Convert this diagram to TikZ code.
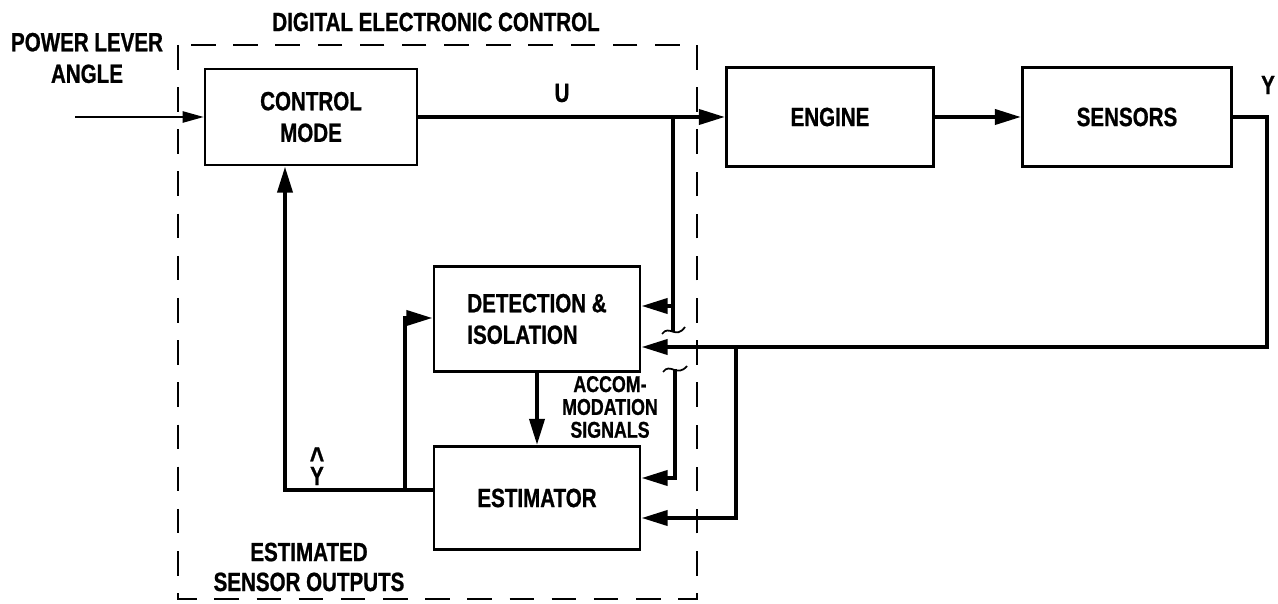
\documentclass[tikz,border=0pt]{standalone}
\usepackage{fontspec}
\setmainfont{Liberation Sans}[FakeStretch=0.78, BoldFeatures={FakeBold=0.8}]
\usetikzlibrary{arrows.meta}

\tikzset{
  txt/.style={font=\bfseries\fontsize{15}{18}\selectfont, align=center, inner sep=0pt},
  blk/.style={txt, draw, line width=1.6pt},
  bus/.style={line width=2.4pt},
  sig/.style={bus, -{Triangle[length=15pt,width=8.5pt]}},
  feed/.style={line width=0.8pt, -{Triangle[length=12pt,width=6.5pt]}},
  frame/.style={line width=0.8pt, dash pattern=on 14pt off 10pt},
  brk/.style={line width=1pt},
}
\newcommand\hatY{\ooalign{Y\cr\hidewidth\raisebox{9pt}{\fontsize{18}{18}\selectfont\textasciicircum}\hidewidth\cr}}

\begin{document}
\begin{tikzpicture}[x=0.02cm,y=-0.02cm]
  \useasboundingbox (0,0) rectangle (1278,604);
  % control box
  \draw[frame] (178,45) rectangle (697,599);
  \node[txt] (dec) at (436,22) {DIGITAL ELECTRONIC CONTROL};
  %
  \node[blk, minimum width=4.24cm, minimum height=1.92cm] (ctrl) at (311,117) {CONTROL\\MODE};
  \node[blk, minimum width=4.14cm, minimum height=1.98cm] (engine) at (830,117) {ENGINE};
  \node[blk, minimum width=4.18cm, minimum height=1.98cm] (sensors) at (1127,117) {SENSORS};
  \node[blk, align=left, minimum width=4.12cm, minimum height=2.1cm] (detect) at (537,319) {DETECTION \&\\ISOLATION};
  \node[blk, minimum width=4.12cm, minimum height=2.06cm] (estim) at (537,498) {ESTIMATOR};
  %
  \node[txt] (plalbl) at (87,58) {POWER LEVER\\ANGLE};
  \node[txt] (ulbl) at (562,93) {U};
  \node[txt] (ylbl) at (1268,85) {Y};
  \node[txt, anchor=base] (yhlbl) at (317,485) {\hatY};
  \node[txt, font=\bfseries\fontsize{15}{17}\selectfont] (estlbl) at (309,567) {ESTIMATED\\SENSOR OUTPUTS};
  \node[txt, font=\bfseries\fontsize{13}{13}\selectfont] (acclbl) at (610,407) {ACCOM-\\MODATION\\SIGNALS};
  % forward path
  \coordinate (pla) at (75,117);
  \draw[feed] (pla) -- (pla -| ctrl.west);
  \draw[sig] (ctrl.east) -- (ctrl.east -| engine.west);
  \draw[sig] (engine.east) -- (sensors.west);
  % measured outputs
  \coordinate (ytop) at (1267,117);
  \coordinate (ybot) at (1267,347);
  \draw[sig] (sensors.east) -- (ytop) -- (ybot) -- (ybot -| detect.east);
  \coordinate (ybr) at (736,347);
  \coordinate (ybrb) at (736,518);
  \draw[sig] (ybr) -- (ybrb) -- (ybrb -| estim.east);
  % commands to detection and estimator
  \coordinate (ubr) at (673,117);
  \coordinate (ucut) at (673,331);
  \coordinate (uin) at (673,306);
  \draw[bus] (ubr) -- (ucut);
  \draw[sig] (uin) -- (uin -| detect.east);
  \coordinate (ucut2) at (675,369);
  \coordinate (ulow) at (675,478);
  \draw[sig] (ucut2) -- (ulow) -- (ulow -| estim.east);
  \draw[brk] (662,334) .. controls (669,324) and (676,340) .. (685,327);
  \draw[brk] (663,372) .. controls (670,362) and (677,378) .. (687,366);
  % accommodation
  \draw[sig] (detect.south) -- (estim.north);
  % estimated outputs
  \coordinate (yhat) at (285,490);
  \coordinate (ybranch) at (405,490);
  \coordinate (ydet) at (405,318);
  \draw[sig] (yhat -| estim.west) -- (yhat) -- (ctrl.south -| yhat);
  \draw[sig] (ybranch) -- (ydet) -- (ydet -| detect.west);
\end{tikzpicture}
\end{document}
